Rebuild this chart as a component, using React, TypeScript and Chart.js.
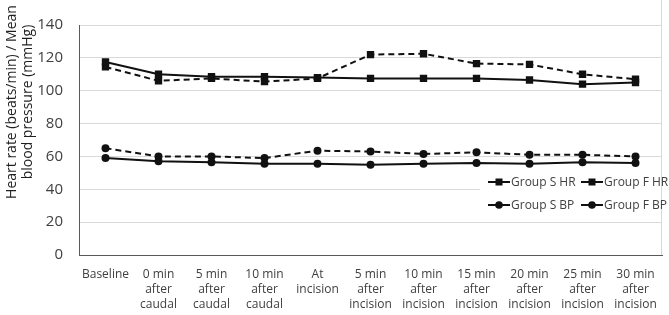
import React, { useEffect, useRef } from "react";
import { Chart, registerables } from "chart.js";

Chart.register(...registerables);

const categories: string[][] = [
  ["Baseline"],
  ["0 min", "after", "caudal"],
  ["5 min", "after", "caudal"],
  ["10 min", "after", "caudal"],
  ["At", "incision"],
  ["5 min", "after", "incision"],
  ["10 min", "after", "incision"],
  ["15 min", "after", "incision"],
  ["20 min", "after", "incision"],
  ["25 min", "after", "incision"],
  ["30 min", "after", "incision"],
];

const groupSHR = [117.5, 110, 108.5, 108.5, 108, 107.5, 107.5, 107.5, 106.5, 104, 105];
const groupFHR = [114.5, 106, 107.5, 105.5, 107.5, 122, 122.5, 116.5, 116, 110, 107];
const groupSBP = [59, 57, 56.5, 55.5, 55.5, 55, 55.5, 56, 55.5, 56.5, 56];
const groupFBP = [65, 60, 60, 59, 63.5, 63, 61.5, 62.5, 61, 61, 60];

const yTitleLines = ["Heart rate (beats/min) / Mean", "blood pressure (mmHg)"];
const legendLabels = ["Group S HR", "Group F HR", "Group S BP", "Group F BP"];

const FONT = "'Open Sans', 'DejaVu Sans', sans-serif";
const TEXT = "#404040";
const LINE = "#111111";

const overlayPlugin = {
  id: "overlay",
  afterDraw(chart: any) {
    const ctx = chart.ctx as CanvasRenderingContext2D;
    const area = chart.chartArea;
    ctx.save();
    // right border
    ctx.strokeStyle = "#d9d9d9";
    ctx.lineWidth = 1;
    ctx.beginPath();
    ctx.moveTo(area.right - 0.5, 0);
    ctx.lineTo(area.right - 0.5, area.bottom);
    ctx.stroke();

    // y title
    ctx.fillStyle = "#1f1f1f";
    ctx.font = `14px ${FONT}`;
    ctx.textAlign = "center";
    ctx.textBaseline = "middle";
    const cy = 102;
    ctx.save();
    ctx.translate(12, cy);
    ctx.rotate(-Math.PI / 2);
    ctx.fillText(yTitleLines[0], 0, 0);
    ctx.restore();
    ctx.save();
    ctx.translate(28.5, cy);
    ctx.rotate(-Math.PI / 2);
    ctx.fillText(yTitleLines[1], 0, 0);
    ctx.restore();

    // legend box
    ctx.fillStyle = "#ffffff";
    ctx.fillRect(480, 171, area.right - 481, 44);
    const cols = [488, 581];
    const rows = [182, 205];
    const styles = ["rect", "rect", "circle", "circle"];
    ctx.font = `12px ${FONT}`;
    ctx.textAlign = "left";
    ctx.textBaseline = "middle";
    legendLabels.forEach((lab, i) => {
      const x = cols[i % 2];
      const y = rows[Math.floor(i / 2)];
      ctx.strokeStyle = LINE;
      ctx.lineWidth = 2;
      ctx.beginPath();
      ctx.moveTo(x, y);
      ctx.lineTo(x + 22, y);
      ctx.stroke();
      ctx.fillStyle = LINE;
      if (styles[i] === "rect") {
        ctx.fillRect(x + 7.5, y - 3.5, 7, 7);
      } else {
        ctx.beginPath();
        ctx.arc(x + 11, y, 3.8, 0, Math.PI * 2);
        ctx.fill();
      }
      ctx.fillStyle = TEXT;
      ctx.fillText(lab, x + 23, y + 0.5);
    });
    ctx.restore();
  },
};

export default function App() {
  const ref = useRef<HTMLCanvasElement | null>(null);
  useEffect(() => {
    if (!ref.current) return;
    const mk = (label: string, data: number[], style: string, dashed: boolean) => ({
      label,
      data,
      borderColor: LINE,
      backgroundColor: LINE,
      borderWidth: 2,
      borderDash: dashed ? [6, 4] : [],
      pointStyle: style,
      pointRadius: style === "rect" ? 5.2 : 4,
      pointBorderWidth: 0,
      pointBackgroundColor: LINE,
      tension: 0,
      fill: false,
    });
    const chart = new Chart(ref.current, {
      type: "line",
      data: {
        labels: categories,
        datasets: [
          mk(legendLabels[0], groupSHR, "rect", false),
          mk(legendLabels[1], groupFHR, "rect", true),
          mk(legendLabels[2], groupSBP, "circle", false),
          mk(legendLabels[3], groupFBP, "circle", true),
        ] as any,
      },
      options: {
        responsive: false,
        animation: false,
        devicePixelRatio: 1,
        layout: { padding: { top: 7, right: 2, left: 0, bottom: 0 } },
        plugins: { legend: { display: false }, tooltip: { enabled: false } },
        scales: {
          x: {
            type: "category",
            offset: true,
            grid: { display: false, drawTicks: false, offset: true },
            border: { display: true, color: "#595959", width: 1 },
            ticks: {
              color: TEXT,
              font: { family: FONT, size: 12, lineHeight: 1.25 },
              maxRotation: 0,
              minRotation: 0,
              autoSkip: false,
              padding: 12,
            },
            afterFit(scale: any) {
              scale.height = 60;
            },
          },
          y: {
            min: 0,
            max: 140,
            ticks: {
              stepSize: 20,
              color: TEXT,
              font: { family: FONT, size: 15 },
              padding: 16,
            },
            grid: { color: "#d9d9d9", lineWidth: 1, drawTicks: false },
            border: { display: true, color: "#595959", width: 1 },
            afterFit(scale: any) {
              scale.width = 79;
            },
          },
        },
      } as any,
      plugins: [overlayPlugin],
    });
    return () => chart.destroy();
  }, []);
  return (
    <div style={{ position: "fixed", left: 0, top: 0, width: 669, height: 315, background: "#fff" }}>
      <canvas ref={ref} width={669} height={315} style={{ display: "block" }} />
    </div>
  );
}
